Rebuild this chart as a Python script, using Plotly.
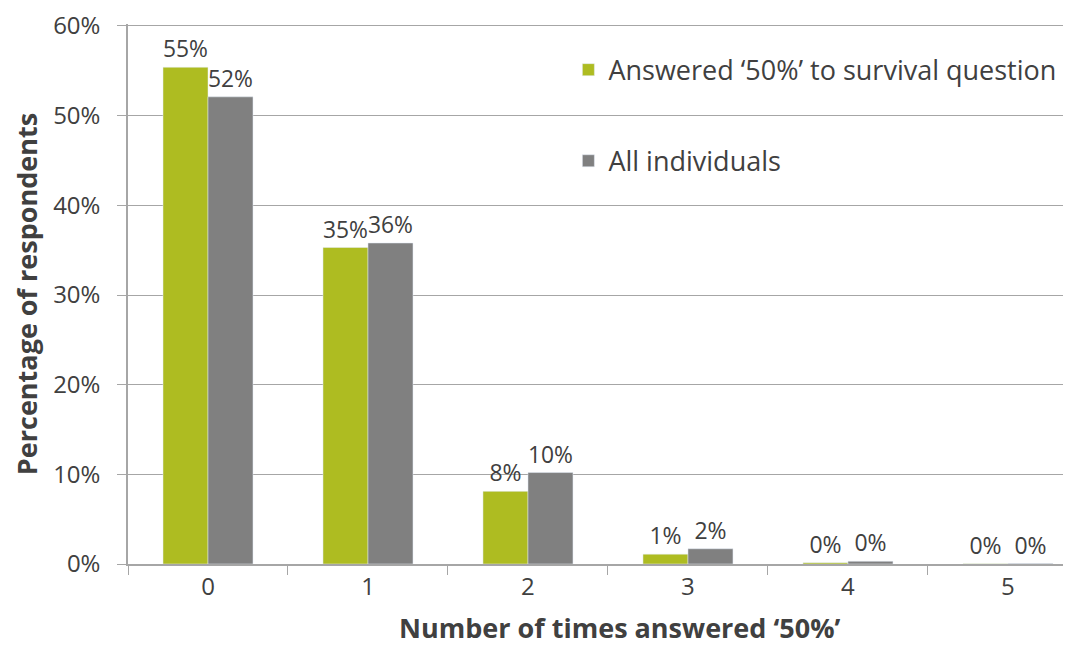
import plotly.graph_objects as go

categories = ["0", "1", "2", "3", "4", "5"]
answered_50 = [55.4, 35.3, 8.1, 1.1, 0.15, 0.02]
all_individuals = [52.1, 35.8, 10.2, 1.7, 0.3, 0.05]
answered_labels = ["55%", "35%", "8%", "1%", "0%", "0%"]
all_labels = ["52%", "36%", "10%", "2%", "0%", "0%"]
y_ticks = [0, 10, 20, 30, 40, 50, 60]
y_ticktext = ["0%", "10%", "20%", "30%", "40%", "50%", "60%"]

GREEN = "#AEBC21"
GRAY = "#808080"
TXT = "#404040"
FONT = "Open Sans"
LINE = "#A6A6A6"

fig = go.Figure()
fig.add_trace(go.Bar(
    x=categories, y=answered_50, name="Answered \u201850%\u2019 to survival question",
    marker_color=GREEN, text=answered_labels, textposition="outside",
    textfont=dict(size=23, color=TXT, family=FONT), cliponaxis=False,
    legendgroup="a",
))
fig.add_trace(go.Bar(
    x=categories, y=all_individuals, name="All individuals",
    marker_color=GRAY, text=all_labels, textposition="outside",
    textfont=dict(size=23, color=TXT, family=FONT), cliponaxis=False,
    legendgroup="b",
))

fig.update_layout(
    width=1063, height=638,
    margin=dict(l=120, r=0, t=14, b=82),
    paper_bgcolor="white", plot_bgcolor="white",
    barmode="group", bargap=0.4375, bargroupgap=0,
    font=dict(family=FONT, color=TXT, size=20),
    showlegend=True,
    legend=dict(
        x=0.467, y=0.96, xanchor="left", yanchor="top",
        font=dict(size=27, color=TXT, family=FONT),
        traceorder="grouped", tracegroupgap=53,
        bgcolor="rgba(0,0,0,0)",
    ),
    annotations=[dict(
        text="<b>Number of times answered \u201850%\u2019</b>",
        xref="paper", yref="paper", x=0.521, y=0, xanchor="center", yanchor="middle",
        yshift=-63, showarrow=False,
        font=dict(size=27, color=TXT, family=FONT),
    )],
)

fig.update_xaxes(
    type="category", range=[-0.5, 5.394],
    tickson="boundaries", ticks="outside", ticklen=9, tickcolor=LINE,
    showline=True, linecolor=LINE, linewidth=1.5,
    showgrid=False, tickfont=dict(size=24, color=TXT),
)
fig.update_yaxes(
    range=[0, 60.222], tickvals=y_ticks, ticktext=y_ticktext,
    ticks="outside", ticklen=9, tickcolor=LINE, ticklabelstandoff=12,
    ticklabeloverflow="allow",
    showline=True, linecolor=LINE, linewidth=1.5,
    showgrid=True, gridcolor=LINE, gridwidth=1.2,
    zeroline=False, tickfont=dict(size=24, color=TXT),
    title=dict(text="<b>Percentage of respondents</b>",
               font=dict(size=27, color=TXT, family=FONT), standoff=12),
)

fig.write_html("out.html")
